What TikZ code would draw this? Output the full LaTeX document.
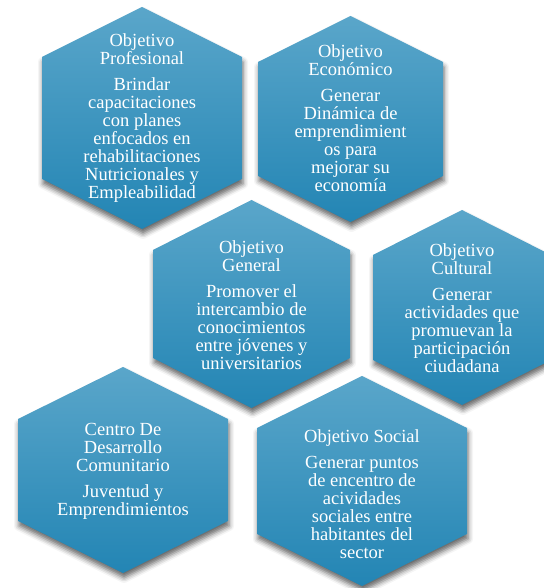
\documentclass[tikz,border=0pt]{standalone}
\usepackage{fontspec}
\setmainfont{Liberation Serif}
\usetikzlibrary{shadows.blur}
\definecolor{hextop}{HTML}{5AA6CA}
\definecolor{hexbottom}{HTML}{2385B4}
\colorlet{hexshadow}{black!80}
\newcommand{\cellfont}{\fontsize{18.5}{18}\selectfont}
% #1 centre x, #2 centre y, #3 half width, #4 half height, #5 height of the point
\newcommand{\hexcell}[5]{%
  \path[hexfill] (#1,#2+#4) -- (#1+#3,#2+#4-#5) -- (#1+#3,#2-#4+#5)
    -- (#1,#2-#4) -- (#1-#3,#2-#4+#5) -- (#1-#3,#2+#4-#5) -- cycle;
}
\tikzset{
  hexfill/.style={top color=hextop,bottom color=hexbottom,
    blur shadow={shadow xshift=1pt,shadow yshift=-5pt,
      shadow blur radius=5pt,shadow opacity=60}},
  celltext/.style={text=white,align=center,inner sep=0pt,font=\cellfont}
}

\begin{document}
\begin{tikzpicture}[x=1pt,y=1pt]
  \useasboundingbox (0,0) rectangle (543,588);

  \hexcell{142}{470}{100}{111}{50}
  \hexcell{350.5}{469}{92.5}{103}{46}
  \hexcell{251.5}{284}{98.5}{104}{50}
  \hexcell{462}{280.5}{89}{97.5}{45}
  \hexcell{123}{118}{105}{103}{52}
  \hexcell{362}{107}{105}{105}{52}

  \node[celltext] (profesional) at (142,470) {Objetivo\\Profesional\\[8pt]Brindar\\capacitaciones\\con planes\\enfocados en\\rehabilitaciones\\Nutricionales y\\Empleabilidad};
  \node[celltext] (economico) at (350.5,470) {Objetivo\\Económico\\[8pt]Generar\\Dinámica de\\emprendimient\\os para\\mejorar su\\economía};
  \node[celltext] (general) at (251.5,283) {Objetivo\\General\\[8pt]Promover el\\intercambio de\\conocimientos\\entre jóvenes y\\universitarios};
  \node[celltext] (cultural) at (462,280) {Objetivo\\Cultural\\[8pt]Generar\\actividades que\\promuevan la\\participación\\ciudadana};
  \node[celltext] (centro) at (123,117) {Centro De\\Desarrollo\\Comunitario\\[8pt]Juventud y\\Emprendimientos};
  \node[celltext] (social) at (362,94) {Objetivo Social\\[8pt]Generar puntos\\de encentro de\\acividades\\sociales entre\\habitantes del\\sector};
\end{tikzpicture}
\end{document}
